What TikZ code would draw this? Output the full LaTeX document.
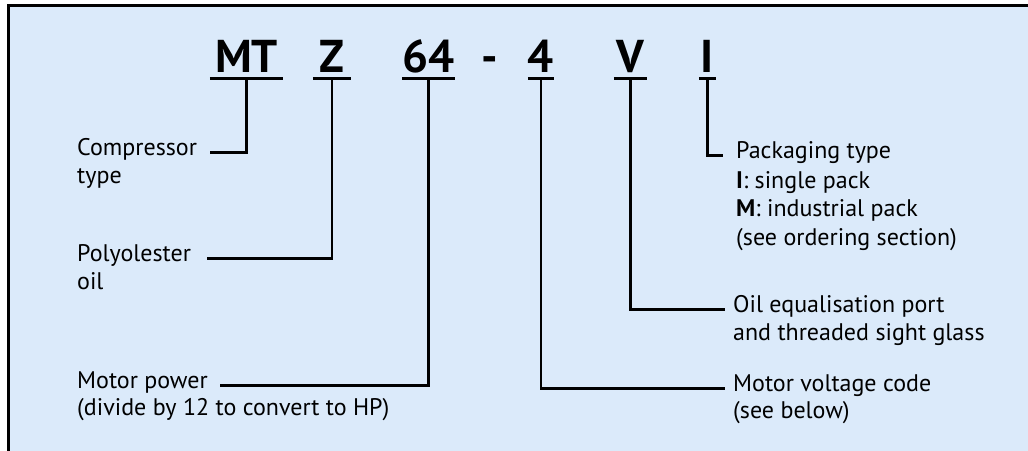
\documentclass[tikz,border=0pt]{standalone}
\usepackage{fontspec}
\setmainfont{PT Sans}
\usetikzlibrary{positioning}

\definecolor{panelblue}{RGB}{219,234,250}

\tikzset{
  code/.style={font=\bfseries\fontsize{46}{46}\selectfont, anchor=base, inner xsep=0pt, inner ysep=6pt, text depth=0pt},
  lbl/.style={font=\fontsize{24}{28.5}\selectfont, anchor=base west, inner sep=0pt},
  uline/.style={line width=3pt},
  conn/.style={line width=2.5pt},
}

\begin{document}
\begin{tikzpicture}[x=1pt,y=-1pt]
\useasboundingbox (0,0) rectangle (1028,450);
% panel
\fill[panelblue] (8,5) rectangle (1032,454);
\draw[line width=3pt] (8,454) -- (8,5) -- (1032,5);

% type code
\node[code, minimum width=73] (mt) at (246.5,72) {MT};
\node[code, minimum width=38] (z) at (332,72) {Z};
\node[code, minimum width=49] (pw) at (428.5,72) {64};
\node[code] (dash) at (490,72) {-};
\node[code, minimum width=22] (vc) at (541,72) {4};
\node[code, minimum width=33] (v) at (630.5,72) {V};
\node[code, minimum width=17] (i) at (707.5,72) {I};
\foreach \n in {mt,z,pw,vc,v,i}
  \draw[uline] (\n.south west) -- (\n.south east);

% left labels
\node[lbl] (comp) at (77,155) {Compressor};
\node[lbl, below=28pt of comp.base west, anchor=base west] (comp2) {type};
\node[lbl] (oil) at (77,261) {Polyolester};
\node[lbl, below=28pt of oil.base west, anchor=base west] (oil2) {oil};
\node[lbl] (power) at (77,388) {Motor power};
\node[lbl, below=27pt of power.base west, anchor=base west] (power2) {(divide by 12 to convert to HP)};

% right labels
\node[lbl] (pack) at (736,158) {Packaging type};
\node[lbl, below=30pt of pack.base west, anchor=base west] (pack2)
  {\begin{tabular}[t]{@{}l@{}}\textbf{I}: single pack\\\textbf{M}: industrial pack\\(see ordering section)\end{tabular}};
\node[lbl] (port) at (733,312) {Oil equalisation port};
\node[lbl, below=28pt of port.base west, anchor=base west] (port2) {and threaded sight glass};
\node[lbl] (volt) at (733,391) {Motor voltage code};
\node[lbl, below=27pt of volt.base west, anchor=base west] (volt2) {(see below)};

% connectors
\draw[conn] (mt.south) |- ([xshift=13pt]comp.mid east);
\draw[conn] (z.south) |- ([xshift=16pt]oil.mid east);
\draw[conn] (pw.south) |- ([xshift=12pt]power.mid east);
\draw[conn] (vc.south) |- ([xshift=-8pt]volt.mid west);
\draw[conn] (v.south) |- ([xshift=-8pt]port.mid west);
\draw[conn] (i.south) |- ([xshift=-13pt]pack.mid west);
\end{tikzpicture}
\end{document}
